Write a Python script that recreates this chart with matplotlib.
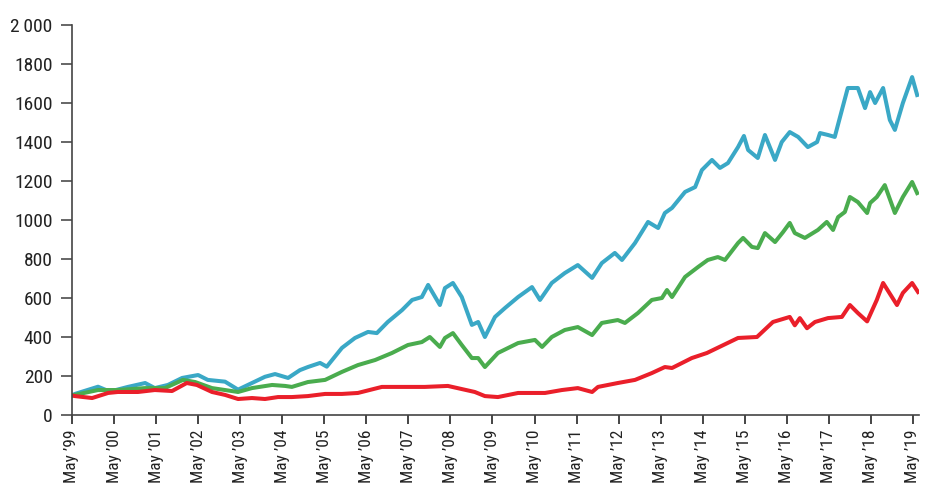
import numpy as np
import matplotlib
matplotlib.use("Agg")
import matplotlib.pyplot as plt
from matplotlib import font_manager as fm

# years since May 1999 / index value (start = 100)
t_blue = [0, 0.07, 0.62, 0.90, 1.33, 1.74, 1.97, 2.28, 2.62, 3.00, 3.23, 3.64, 3.95, 4.28, 4.59,
          4.83, 5.14, 5.42, 5.61, 5.90, 6.06, 6.42, 6.73, 7.04, 7.25, 7.51, 7.85, 8.09, 8.32,
          8.47, 8.75, 8.87, 9.06, 9.27, 9.51, 9.66, 9.82, 10.06, 10.30, 10.61, 10.94, 11.13,
          11.41, 11.72, 12.03, 12.37, 12.60, 12.91, 13.08, 13.39, 13.70, 13.94, 14.10, 14.27,
          14.58, 14.82, 14.98, 15.22, 15.41, 15.60, 15.84, 15.98, 16.08, 16.31, 16.48, 16.72,
          16.88, 17.07, 17.27, 17.50, 17.72, 17.79, 17.98, 18.14, 18.31, 18.45, 18.69, 18.86,
          18.98, 19.10, 19.29, 19.45, 19.57, 19.76, 19.98, 20.10]
blue = [100, 108, 145, 120, 144, 164, 138, 154, 190, 205, 180, 171, 130, 164, 196,
        210, 190, 230, 246, 267, 248, 344, 395, 426, 420, 477, 538, 590, 605,
        667, 564, 651, 677, 605, 462, 477, 400, 503, 549, 605, 656, 590,
        677, 728, 769, 703, 779, 831, 795, 882, 990, 959, 1036, 1062,
        1144, 1169, 1256, 1308, 1267, 1292, 1374, 1431, 1359, 1318, 1436, 1308,
        1400, 1451, 1426, 1374, 1400, 1446, 1436, 1426, 1564, 1677, 1677, 1574,
        1656, 1600, 1677, 1513, 1462, 1600, 1733, 1641]

t_green = [0, 0.07, 0.62, 1.09, 1.74, 2.21, 2.64, 2.93, 3.33, 3.95, 4.28, 4.76, 5.07, 5.23,
           5.61, 6.02, 6.42, 6.80, 7.21, 7.61, 7.99, 8.32, 8.51, 8.75, 8.87, 9.06, 9.27, 9.51,
           9.66, 9.82, 10.13, 10.61, 11.01, 11.18, 11.41, 11.72, 12.03, 12.37, 12.60, 12.98,
           13.15, 13.46, 13.79, 14.03, 14.15, 14.27, 14.58, 14.89, 15.12, 15.36, 15.53, 15.84,
           15.96, 16.17, 16.31, 16.48, 16.72, 16.91, 17.07, 17.19, 17.43, 17.74, 17.95, 18.10,
           18.22, 18.38, 18.50, 18.69, 18.91, 18.98, 19.14, 19.33, 19.57, 19.76, 19.98, 20.10]
green = [100, 103, 128, 128, 138, 138, 180, 169, 138, 118, 138, 154, 149, 144,
         169, 180, 221, 256, 282, 318, 359, 374, 400, 349, 395, 420, 359, 292,
         292, 246, 318, 369, 385, 349, 400, 436, 451, 410, 472, 487,
         472, 523, 590, 600, 641, 605, 708, 759, 795, 810, 795, 882,
         908, 862, 856, 933, 887, 938, 985, 933, 908, 949, 990, 949,
         1015, 1041, 1118, 1092, 1036, 1087, 1118, 1179, 1036, 1118, 1195, 1138]

t_red = [0, 0.07, 0.48, 0.86, 1.09, 1.57, 1.97, 2.38, 2.73, 2.97, 3.33, 3.64, 3.95, 4.28,
         4.59, 4.90, 5.23, 5.61, 6.02, 6.42, 6.80, 7.37, 7.99, 8.39, 8.94, 9.27, 9.58, 9.82,
         10.13, 10.61, 11.25, 11.65, 12.03, 12.37, 12.51, 12.98, 13.39, 13.79, 14.10, 14.27,
         14.51, 14.74, 15.10, 15.84, 16.29, 16.67, 17.07, 17.19, 17.31, 17.48, 17.67, 17.98,
         18.31, 18.50, 18.69, 18.91, 19.14, 19.29, 19.62, 19.76, 19.98, 20.12]
red = [100, 97, 87, 113, 118, 118, 128, 123, 164, 154, 118, 103, 82, 87,
       82, 92, 92, 97, 108, 108, 113, 144, 144, 144, 149, 133, 118, 97,
       92, 113, 113, 128, 138, 118, 144, 164, 180, 215, 246, 241,
       267, 292, 318, 395, 400, 477, 503, 460, 497, 445, 477, 497,
       503, 564, 523, 480, 590, 677, 564, 626, 677, 631]

years = list(range(0, 21))
year_labels = ["May \u2019%02d" % ((99 + k) % 100) for k in years]
y_ticks = [0, 200, 400, 600, 800, 1000, 1200, 1400, 1600, 1800, 2000]
y_labels = ["0", "200", "400", "600", "800", "1000", "1200", "1400", "1600", "1800", "2\u2009000"]

# pick a condensed face if one is installed
have = {f.name for f in fm.fontManager.ttflist}
wanted = ['Roboto Condensed', 'Liberation Sans Narrow', 'Archivo Narrow', 'PT Sans Narrow',
          'Barlow Condensed', 'Fira Sans Condensed', 'IBM Plex Sans Condensed',
          'Encode Sans Condensed', 'Asap Condensed', 'Pragati Narrow', 'Open Sans Condensed']
cond = [f for f in wanted if f in have]
plt.rcParams['font.family'] = cond[:1] + ['DejaVu Sans']

fig = plt.figure(figsize=(9.25, 4.83), dpi=100)
ax = fig.add_axes([0.0778, 0.1408, 0.9160, 0.8074])

ax.plot(t_blue, blue, color='#3aa8c6', lw=2.9, solid_joinstyle='round')
ax.plot(t_green, green, color='#4aac4e', lw=2.9, solid_joinstyle='round')
ax.plot(t_red, red, color='#ea1f2a', lw=2.9, solid_joinstyle='round')

ax.set_xlim(0, 20.15)
ax.set_ylim(0, 2000)
ax.set_xticks(years)
ax.set_xticklabels(year_labels, rotation=90, fontsize=12.5, color='#222222')
ax.set_yticks(y_ticks)
ax.set_yticklabels(y_labels, fontsize=14, color='#222222')

for s in ['top', 'right']:
    ax.spines[s].set_visible(False)
for s in ['left', 'bottom']:
    ax.spines[s].set_color('#444444')
    ax.spines[s].set_linewidth(1.2)
ax.tick_params(axis='y', length=8, width=1.4, color='#666666', pad=6)
ax.tick_params(axis='x', length=6.5, width=1.4, color='#444444', pad=4)

fig.savefig('out.png', dpi=100)
